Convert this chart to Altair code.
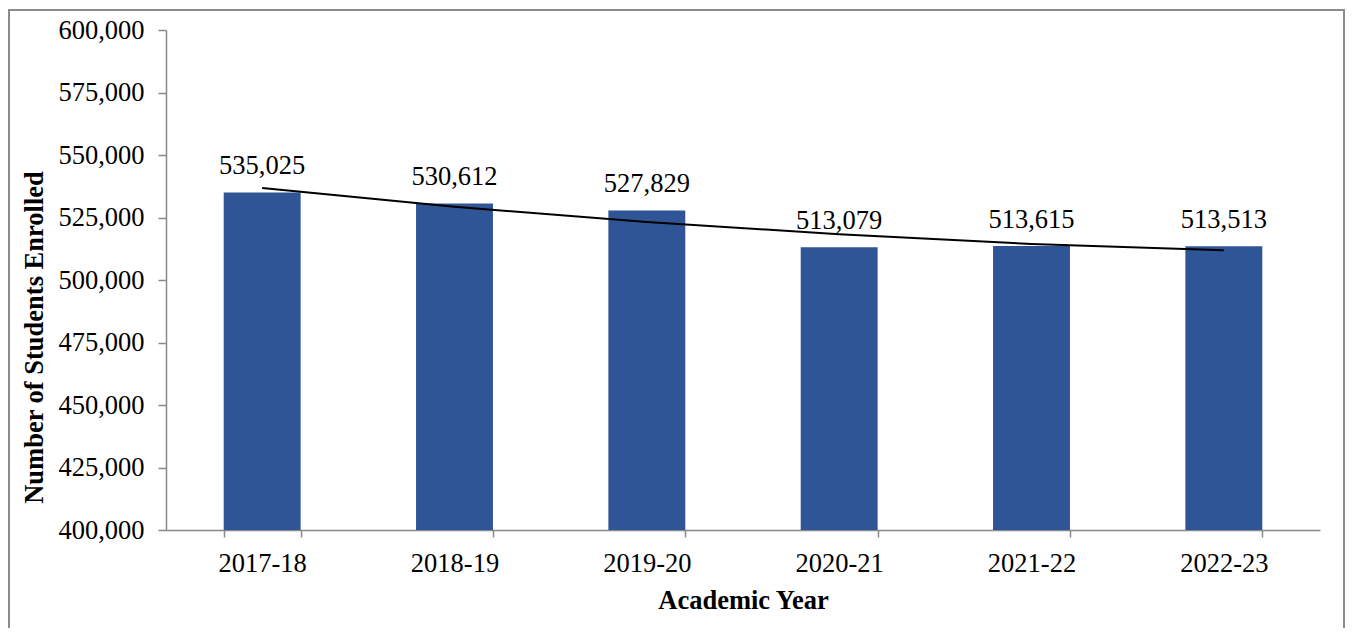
import altair as alt
import pandas as pd

years = ["2017-18", "2018-19", "2019-20", "2020-21", "2021-22", "2022-23"]
enrolled = [535025, 530612, 527829, 513079, 513615, 513513]
trend = [536800, 529300, 523200, 518300, 514400, 511900]
y_ticks = [400000, 425000, 450000, 475000, 500000, 525000, 550000, 575000, 600000]

df = pd.DataFrame({"year": years, "enrolled": enrolled, "trend": trend})

FONT = "Liberation Serif"
FS = 26.5
GRAY = "#898989"
BLUE = "#2F5597"

x_scale = alt.Scale(paddingInner=0.6, paddingOuter=0.3)
y_scale = alt.Scale(domain=[400000, 600000], nice=False, zero=False)

x_axis = alt.Axis(
    title="Academic Year",
    labelAngle=0,
    tickSize=7,
    tickBand="extent",
    labelPadding=13.5,
    titlePadding=10,
    labelFontSize=FS,
    titleFontSize=FS,
    titleFontWeight="bold",
    labelFont=FONT,
    titleFont=FONT,
    labelColor="black",
    titleColor="black",
    domainColor=GRAY,
    tickColor=GRAY,
    domainWidth=1.5,
    tickWidth=1.5,
)

y_axis = alt.Axis(
    title="Number of Students Enrolled",
    values=y_ticks,
    format=",.0f",
    tickSize=8,
    labelPadding=14,
    labelFontSize=FS,
    titleFontSize=FS,
    titleFontWeight="bold",
    labelFont=FONT,
    titleFont=FONT,
    labelColor="black",
    titleColor="black",
    domainColor=GRAY,
    tickColor=GRAY,
    domainWidth=1.5,
    tickWidth=1.5,
    grid=False,
    titleAngle=270,
    titleAlign="center",
    titleBaseline="alphabetic",
    titleX=-124,
    titleY=307,
)

def xe():
    return alt.X("year:N", sort=years, scale=x_scale, axis=x_axis)

def ye(field):
    return alt.Y(field, scale=y_scale, axis=y_axis)

bars = alt.Chart(df).mark_bar(color=BLUE, clip=True).encode(x=xe(), y=ye("enrolled:Q"))

labels = alt.Chart(df).mark_text(
    font=FONT, fontSize=FS, color="black", dy=-18, baseline="alphabetic"
).encode(
    x=xe(),
    y=ye("enrolled:Q"),
    text=alt.Text("enrolled:Q", format=","),
)

trend_line = alt.Chart(df).mark_line(
    color="black", strokeWidth=2, interpolate="monotone"
).encode(
    x=xe(),
    y=ye("trend:Q"),
)

frame = alt.Chart(pd.DataFrame({"k": [0]})).mark_rect(
    fillOpacity=0, stroke="#8c8c8c", strokeWidth=2
).encode(
    x=alt.value(-157),
    x2=alt.value(1178),
    y=alt.value(-20),
    y2=alt.value(700),
)

chart = alt.layer(bars, trend_line, labels, frame).properties(
    width=1154,
    height=500,
    autosize=alt.AutoSizeParams(type="none"),
    padding={"left": 158, "top": 22, "right": 25, "bottom": 98},
).configure(font=FONT).configure_view(stroke=None)

chart.save("out.html", embed_options={"renderer": "svg", "actions": False})
